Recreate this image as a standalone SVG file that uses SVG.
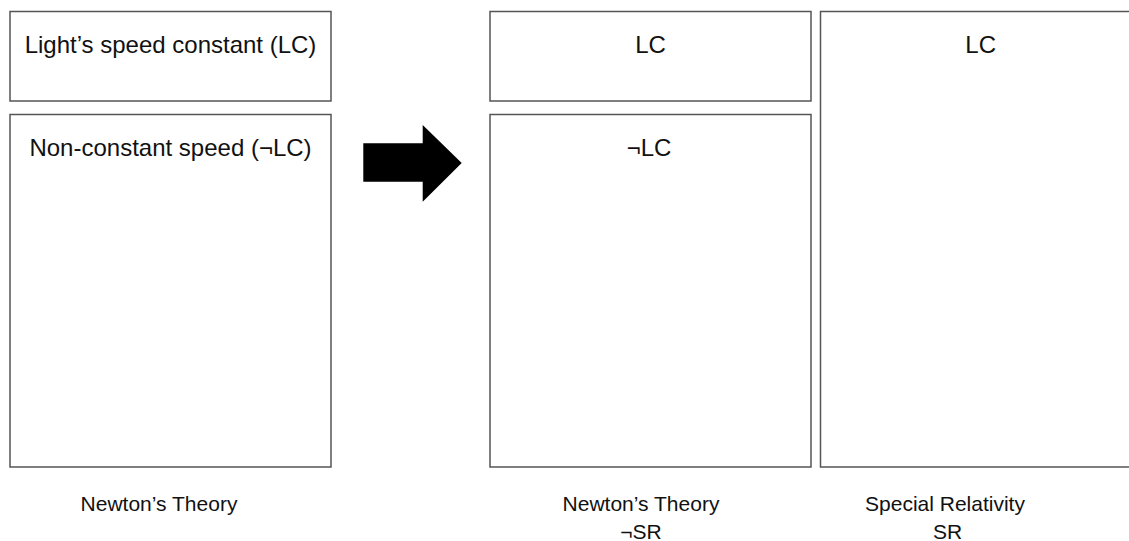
<svg xmlns="http://www.w3.org/2000/svg" width="1129" height="541" viewBox="0 0 1129 541">
<style>
.box{fill:#fff;stroke:#555;stroke-width:1.5}
.t{font-family:"Liberation Sans",Arial,sans-serif;font-size:24px;fill:#111;text-anchor:middle}
.c{font-family:"Liberation Sans",Arial,sans-serif;font-size:21px;fill:#111;text-anchor:middle}
</style>
<rect width="1129" height="541" fill="#fff"/>
<g id="left-lc">
<rect class="box" x="10" y="11.5" width="321" height="89.5"/>
<text class="t" x="170.5" y="53">Light’s speed constant (LC)</text>
</g>
<g id="left-nlc">
<rect class="box" x="10" y="114.5" width="321" height="352.5"/>
<text class="t" x="170.5" y="156">Non-constant speed (¬LC)</text>
</g>
<g id="mid-lc">
<rect class="box" x="490" y="11.5" width="321" height="89.5"/>
<text class="t" x="650.5" y="53">LC</text>
</g>
<g id="mid-nlc">
<rect class="box" x="490" y="114.5" width="321" height="352.5"/>
<text class="t" x="649" y="156">¬LC</text>
</g>
<g id="right-lc">
<rect class="box" x="820.5" y="11.5" width="321" height="455.5"/>
<text class="t" x="980.7" y="53">LC</text>
</g>
<g id="connectors">
<polygon points="363.3,143.3 422.7,143.3 422.7,125 461.7,163 422.7,201.7 422.7,181.7 363.3,181.7" fill="#000"/>
</g>
<g id="captions">
<text class="c" x="159" y="510.5">Newton’s Theory</text>
<text class="c" x="641" y="510.5">Newton’s Theory</text>
<text class="c" x="641" y="539">¬SR</text>
<text class="c" x="945" y="510.5">Special Relativity</text>
<text class="c" x="947.5" y="539">SR</text>
</g>
</svg>
